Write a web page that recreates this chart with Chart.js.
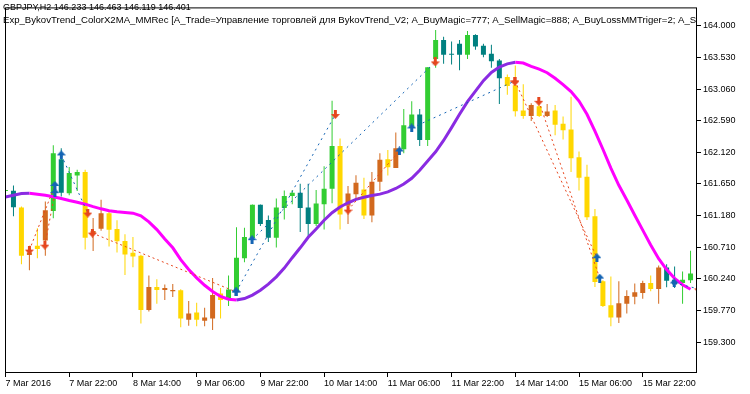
<!DOCTYPE html>
<html>
<head>
<meta charset="utf-8">
<script src="https://cdn.jsdelivr.net/npm/chart.js@4.4.0/dist/chart.umd.min.js"></script>
<style>
  html, body { margin: 0; padding: 0; background: #fff; }
</style>
</head>
<body>
<canvas id="chart" width="750" height="394"></canvas>
<script>
// GBPJPY H2 bars, 7 Mar 06:00 .. 16 Mar 10:00
const open = [161.546,161.551,161.302,160.595,160.731,160.809,161.247,162.019,161.511,161.775,
  161.829,160.907,160.984,161.214,160.980,160.804,160.628,160.585,159.779,160.120,
  160.076,160.057,160.072,159.633,159.740,159.618,159.652,160.024,159.926,160.057,
  160.545,160.848,161.341,161.116,160.852,161.292,161.473,161.521,161.302,161.057,
  161.350,161.580,162.214,161.327,161.496,161.570,161.180,161.683,162.019,161.887,
  162.166,162.507,162.682,162.302,163.508,163.791,163.586,163.732,163.571,163.864,
  163.703,163.586,163.483,163.239,163.117,162.741,162.659,162.805,162.659,162.741,
  162.546,162.458,162.049,161.756,161.170,160.204,159.848,159.667,159.871,159.974,
  160.032,160.179,160.091,160.409,160.229,160.179,160.218];
const high = [161.561,161.628,161.317,160.731,160.994,161.390,162.224,162.180,161.902,161.863,
  161.863,161.145,161.414,161.268,161.111,160.902,160.863,160.599,160.292,160.233,
  160.155,160.164,160.087,159.911,159.886,159.813,160.252,160.106,160.292,161.009,
  160.999,161.346,161.346,161.180,161.434,161.555,161.561,161.653,161.653,161.561,
  161.912,162.887,162.327,161.620,161.781,161.741,161.829,162.107,162.155,162.414,
  162.766,162.879,162.766,163.385,163.937,163.839,163.766,163.791,163.922,163.874,
  163.732,163.717,163.508,163.278,163.410,163.132,162.849,162.849,162.839,162.824,
  162.653,162.946,162.132,161.936,161.277,160.218,160.277,160.204,160.072,160.170,
  160.214,160.292,160.438,160.457,160.423,160.350,160.658];
const low = [161.536,161.170,160.457,160.369,160.545,160.585,161.141,161.463,161.482,161.546,
  160.677,160.653,160.955,160.721,160.633,160.296,160.413,159.579,159.754,159.871,
  159.926,159.970,159.520,159.545,159.535,159.535,159.482,159.652,159.838,159.984,
  160.486,160.819,161.024,160.789,160.706,161.122,161.350,160.936,160.863,161.024,
  160.975,161.365,160.975,161.057,161.423,161.130,161.082,161.546,161.775,161.887,
  162.107,162.448,162.214,162.214,163.376,163.435,163.425,163.341,163.508,163.644,
  163.532,163.376,162.839,162.975,162.653,162.619,162.586,162.644,162.644,162.375,
  162.312,161.829,161.555,161.116,160.120,159.823,159.535,159.585,159.725,159.863,
  159.945,160.057,159.871,160.116,160.106,159.871,160.179];
const close = [161.555,161.306,160.585,160.633,160.683,161.258,162.107,161.521,161.814,161.829,
  160.852,160.950,161.214,160.969,160.800,160.603,160.574,159.779,160.120,160.076,
  160.106,160.076,159.652,159.725,159.633,159.667,159.999,159.926,160.082,160.555,
  160.863,161.341,161.057,160.852,161.302,161.473,161.521,161.292,161.057,161.360,
  161.580,162.214,161.195,161.507,161.668,161.180,161.683,162.009,161.898,162.180,
  162.521,162.682,162.302,163.385,163.791,163.571,163.571,163.571,163.864,163.692,
  163.571,163.473,163.220,163.107,162.732,162.659,162.824,162.659,162.726,162.532,
  162.448,162.034,161.741,161.155,160.194,159.838,159.667,159.877,159.984,160.043,
  160.179,160.091,160.409,160.214,160.155,160.229,160.321];
// BykovTrend state per bar (1 = up, -1 = down)
const trend = [1,1,-1,-1,-1,-1,1,1,1,1,
  -1,-1,-1,-1,-1,-1,-1,-1,-1,-1,
  -1,-1,-1,-1,-1,-1,-1,-1,1,1,
  1,1,1,1,1,1,1,1,1,1,
  1,1,-1,-1,-1,-1,-1,-1,-1,-1,
  1,1,1,1,1,1,1,1,1,1,
  1,1,1,-1,-1,-1,-1,-1,-1,-1,
  -1,-1,-1,-1,-1,-1,-1,-1,-1,-1,
  -1,-1,-1,1,1,1,1];
// ColorX2MA
const ma = [161.456,161.483,161.507,161.511,161.499,161.482,161.460,161.434,161.404,161.378,
  161.350,161.313,161.281,161.253,161.236,161.226,161.217,161.177,161.087,160.972,
  160.833,160.702,160.526,160.380,160.255,160.145,160.052,159.979,159.937,159.926,
  159.948,159.999,160.072,160.163,160.270,160.401,160.555,160.702,160.858,160.980,
  161.111,161.223,161.309,161.371,161.422,161.454,161.478,161.499,161.532,161.583,
  161.649,161.734,161.855,161.990,162.129,162.297,162.488,162.685,162.874,163.029,
  163.186,163.308,163.387,163.435,163.458,163.447,163.398,163.357,163.303,163.220,
  163.126,163.022,162.883,162.685,162.436,162.166,161.887,161.631,161.412,161.185,
  160.965,160.745,160.540,160.379,160.248,160.153,160.087];
// trades: [open bar, open price, close bar, close price]
const buyTrades = [
  [7.0, 162.082, 10.33, 161.218],
  [28.95, 160.047, 41.41, 162.682],
  [30.95, 160.823, 53.95, 163.464],
  [51.0, 162.483, 63.95, 163.180],
  [83.95, 160.179, 87.0, 160.092]
];
const sellTrades = [
  [3.0, 160.668, 6.2, 161.628],
  [4.95, 160.741, 6.2, 161.521],
  [10.91, 160.920, 28.95, 160.047],
  [43.0, 161.262, 49.45, 162.141],
  [63.95, 163.180, 74.25, 160.555],
  [66.95, 162.879, 74.6, 160.252]
];
const xTickLabels = ['7 Mar 2016', '7 Mar 22:00', '8 Mar 14:00', '9 Mar 06:00', '9 Mar 22:00',
  '10 Mar 14:00', '11 Mar 06:00', '11 Mar 22:00', '14 Mar 14:00', '15 Mar 06:00', '15 Mar 22:00'];
const yTicks = [164.000, 163.530, 163.060, 162.590, 162.120, 161.650, 161.180, 160.710, 160.240, 159.770, 159.300];
const header = [
  'GBPJPY,H2 146.233 146.463 146.119 146.401',
  'Exp_BykovTrend_ColorX2MA_MMRec [A_Trade=Управление торговлей для BykovTrend_V2; A_BuyMagic=777; A_SellMagic=888; A_BuyLossMMTriger=2; A_SellLossMMTriger=2;'
];

const FONT = "'Liberation Sans', Arial, sans-serif";
const GREEN = '#32cd32', TEAL = '#008080', GOLD = '#ffd700', CHOCO = '#d2691e';
const VIOLET = '#8a2be2', MAGENTA = '#ff00ff';
const BLUE = '#1464b4', RED = '#e6461e';

function arrowIcon(color, up) {
  const c = document.createElement('canvas');
  c.width = 9; c.height = 9;
  const g = c.getContext('2d');
  g.fillStyle = color;
  g.beginPath();
  const pts = [[4.5,0],[9,5],[6,5],[6,9],[3,9],[3,5],[0,5]];
  pts.forEach(([x, y], k) => {
    const yy = up ? y : 9 - y;
    if (k === 0) g.moveTo(x, yy); else g.lineTo(x, yy);
  });
  g.closePath();
  g.fill();
  return c;
}

const candleColors = open.map((o, i) => trend[i] > 0
  ? (close[i] >= o ? GREEN : TEAL)
  : (close[i] >= o ? CHOCO : GOLD));

const buyDeals = buyTrades.map(t => ({x: t[0], y: t[1]}))
  .concat(sellTrades.map(t => ({x: t[2], y: t[3]})));
const sellDeals = sellTrades.map(t => ({x: t[0], y: t[1]}))
  .concat(buyTrades.map(t => ({x: t[2], y: t[3]})));

const datasets = [];
datasets.push({type: 'line', data: buyDeals, showLine: false, pointStyle: arrowIcon(BLUE, true), pointRadius: 4, order: 0});
datasets.push({type: 'line', data: sellDeals, showLine: false, pointStyle: arrowIcon(RED, false), pointRadius: 4, order: 0});
buyTrades.forEach(t => datasets.push({
  type: 'line', data: [{x: t[0], y: t[1]}, {x: t[2], y: t[3]}],
  borderColor: BLUE, borderWidth: 1, borderDash: [2, 4], pointRadius: 0, order: 1
}));
sellTrades.forEach(t => datasets.push({
  type: 'line', data: [{x: t[0], y: t[1]}, {x: t[2], y: t[3]}],
  borderColor: RED, borderWidth: 1, borderDash: [2, 3], pointRadius: 0, order: 1
}));
datasets.push({
  type: 'line', data: ma.map((v, i) => ({x: i, y: v})),
  borderWidth: 3, pointRadius: 0, tension: 0, order: 2,
  borderColor: MAGENTA,
  segment: {borderColor: c => c.p1.parsed.y >= c.p0.parsed.y ? VIOLET : MAGENTA}
});
datasets.push({
  type: 'bar', data: open.map((o, i) => ({x: i, y: [o, close[i]]})),
  backgroundColor: candleColors, barThickness: 5, grouped: false,
  minBarLength: 1, inflateAmount: 0, borderWidth: 0, order: 3
});
datasets.push({
  type: 'bar', data: open.map((o, i) => ({x: i, y: [low[i], high[i]]})),
  backgroundColor: candleColors, barThickness: 1, grouped: false,
  minBarLength: 1, inflateAmount: 0, borderWidth: 0, order: 4
});

const frameAndHeader = {
  id: 'frameAndHeader',
  afterDraw(chart) {
    const {ctx, chartArea: a} = chart;
    ctx.save();
    ctx.strokeStyle = '#000';
    ctx.lineWidth = 1;
    ctx.strokeRect(a.left + 0.5, a.top + 0.5, a.right - a.left - 1, a.bottom - a.top - 1);
    ctx.beginPath();
    ctx.rect(0, 0, a.right - 1, a.bottom);
    ctx.clip();
    ctx.fillStyle = '#000';
    ctx.textBaseline = 'alphabetic';
    ctx.font = '9px ' + FONT;
    ctx.fillText(header[0], 3, 10);
    ctx.font = '9.6px ' + FONT;
    ctx.fillText(header[1], 3, 22.5);
    ctx.restore();
  }
};

Chart.defaults.font.family = FONT;
Chart.defaults.font.size = 9;
Chart.defaults.color = '#000';

new Chart(document.getElementById('chart'), {
  type: 'bar',
  data: {datasets},
  options: {
    responsive: false,
    animation: false,
    events: [],
    layout: {padding: {left: 2, top: 2, right: 0, bottom: 0}},
    plugins: {legend: {display: false}, tooltip: {enabled: false}},
    scales: {
      x: {
        type: 'linear',
        offset: false,
        min: -0.0625,
        max: 86.8125,
        afterBuildTicks: s => { s.ticks = xTickLabels.map((_, k) => ({value: k * 8})); },
        afterFit: s => { s.height = 21; },
        ticks: {
          autoSkip: false, maxRotation: 0, align: 'start', padding: 1,
          callback: (v, k) => xTickLabels[k]
        },
        grid: {drawOnChartArea: false, offset: false, tickLength: 4, color: '#000'},
        border: {display: false}
      },
      y: {
        position: 'right',
        min: 158.8417,
        max: 164.2738,
        afterBuildTicks: s => { s.ticks = yTicks.map(v => ({value: v})); },
        afterFit: s => { s.width = 53; },
        ticks: {padding: 2, callback: v => v.toFixed(3)},
        grid: {drawOnChartArea: false, tickLength: 4, color: '#000'},
        border: {display: false}
      }
    }
  },
  plugins: [frameAndHeader]
});
</script>
</body>
</html>
